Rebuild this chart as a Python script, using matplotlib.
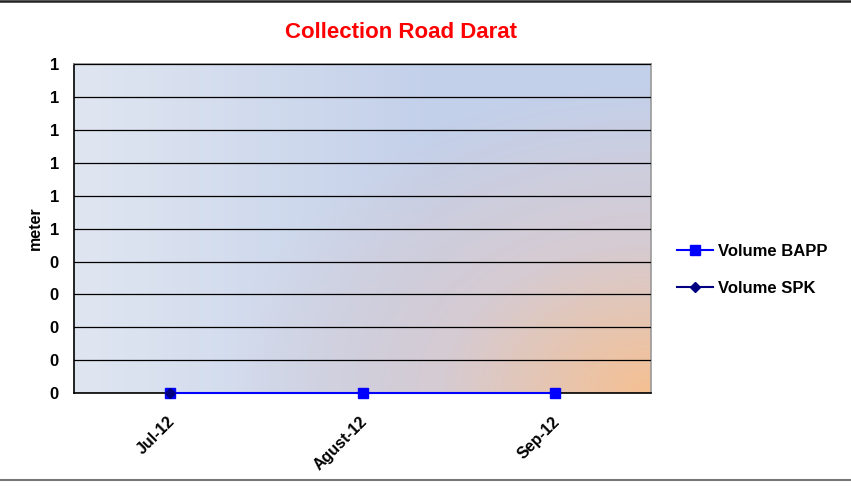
import numpy as np
import matplotlib.pyplot as plt
import matplotlib.transforms as mtransforms
from matplotlib.lines import Line2D
from matplotlib.ticker import FuncFormatter, MultipleLocator

plt.rcParams['font.family'] = ['Liberation Sans', 'DejaVu Sans']

# Data
months = ['Jul-12', 'Agust-12', 'Sep-12']
volume_bapp = [0, 0, 0]
volume_spk = [0, np.nan, np.nan]

fig = plt.figure(figsize=(8.51, 4.86), dpi=100)
ax = fig.add_axes([0.087, 0.191, 0.678, 0.677])

# Gradient background: light blue on the left, orange glow from the lower right
nx, ny = 300, 200
gx, gy = np.meshgrid(np.linspace(0, 1, nx), np.linspace(1, 0, ny))
light = np.array([224, 230, 241]) / 255
blue = np.array([195, 208, 234]) / 255
mauve = np.array([214, 203, 210]) / 255
orange = np.array([245, 192, 146]) / 255
tb = np.clip(gx * 1.6, 0, 1)[..., None]
far = light * (1 - tb) + blue * tb
d = np.sqrt((1 - gx) ** 2 + (0.8 * gy) ** 2)[..., None]
m = 0.36
w1 = np.clip(d / m, 0, 1)
w2 = np.clip((d - m) / 0.38, 0, 1)
img = np.where(d < m, orange * (1 - w1) + mauve * w1, mauve * (1 - w2) + far * w2)
ax.imshow(img, extent=[-0.5, 2.5, 0, 1], aspect='auto', zorder=0, origin='upper')

x = np.arange(len(months))
ax.plot(x, volume_bapp, color='#0000ff', marker='s', markersize=7, linewidth=1.5,
        label='Volume BAPP', clip_on=False, zorder=4)
ax.plot(x, volume_spk, color='#000080', marker='D', markersize=5, linewidth=1.5,
        label='Volume SPK', clip_on=False, zorder=5)

ax.set_xlim(-0.5, 2.5)
ax.set_ylim(0, 1)
ax.yaxis.set_major_locator(MultipleLocator(0.1))
ax.yaxis.set_major_formatter(FuncFormatter(lambda v, p: f'{int(np.floor(v + 0.5 + 1e-9))}'))
ax.grid(axis='y', color='black', linewidth=0.9, zorder=1)
ax.set_axisbelow(False)
ax.tick_params(axis='y', length=0, labelsize=12, pad=11)
for t in ax.get_yticklabels():
    t.set_fontweight('bold')

ax.set_xticks(x)
ax.set_xticklabels(months, rotation=45, ha='right', fontsize=11.5, fontweight='bold')
ax.tick_params(axis='x', length=0, pad=15)
shift = mtransforms.ScaledTranslation(8 / 100, 0, fig.dpi_scale_trans)
for t in ax.get_xticklabels():
    t.set_transform(t.get_transform() + shift)

ax.spines['left'].set_color('black')
ax.spines['bottom'].set_color('black')
ax.spines['top'].set_color('#888888')
ax.spines['right'].set_color('#999999')
for s in ax.spines.values():
    s.set_linewidth(1.2)

ax.set_ylabel('meter', fontsize=11.5, fontweight='bold', labelpad=5)
fig.text(0.471, 1 - 33 / 486, 'Collection Road Darat', color='red', fontsize=16,
         fontweight='bold', ha='center', va='center')

leg = ax.legend(loc='center left', bbox_to_anchor=(1.019, 0.374), frameon=False,
                prop={'weight': 'bold', 'size': 12}, handlelength=2.15,
                labelspacing=1.3, handletextpad=0.3)

fig.add_artist(Line2D([0, 1], [0.997, 0.997], color='#222222', linewidth=1.8,
                      transform=fig.transFigure))
fig.add_artist(Line2D([0, 1], [0.013, 0.013], color='#777777', linewidth=1.5,
                      transform=fig.transFigure))

fig.savefig('out.png', dpi=100, facecolor='white')
